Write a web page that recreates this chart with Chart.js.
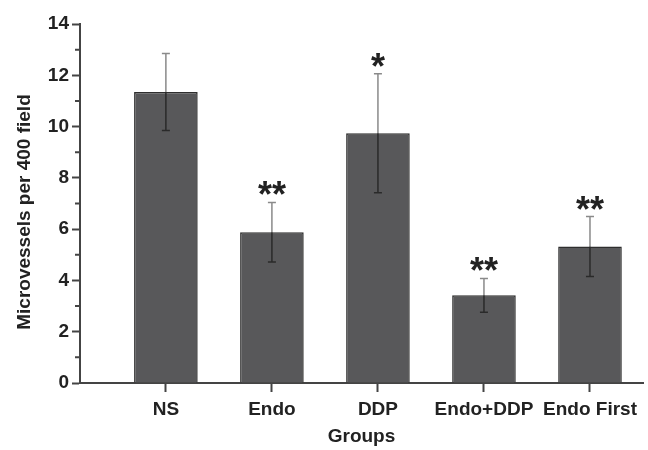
<!DOCTYPE html>
<html>
<head>
<meta charset="utf-8">
<script src="https://cdn.jsdelivr.net/npm/chart.js@4/dist/chart.umd.min.js"></script>
<style>
  html, body { margin: 0; background: #fff; }
  #wrap { width: 648px; height: 450px; }
</style>
</head>
<body>
<div id="wrap"><canvas id="chart"></canvas></div>
<script>
// data
const groups = ['NS', 'Endo', 'DDP', 'Endo+DDP', 'Endo First'];
const means = [11.35, 5.88, 9.74, 3.42, 5.32];
const errors = [1.5, 1.16, 2.32, 0.66, 1.17];
const marks = ['', '**', '*', '**', '**'];
const yMinorTicks = [1, 3, 5, 7, 9, 11, 13];
const yTitle = 'Microvessels per 400 field';

const FONT = '"Liberation Sans", Arial, sans-serif';
const AXIS = '#444';

// error bars, significance stars, minor y ticks and the y title
const extras = {
  id: 'extras',
  afterDatasetsDraw(chart) {
    const { ctx, scales: { x, y } } = chart;
    ctx.save();
    means.forEach((m, i) => {
      const px = x.getPixelForValue(i + 1);
      const top = y.getPixelForValue(m + errors[i]);
      const mid = y.getPixelForValue(m);
      const bot = y.getPixelForValue(m - errors[i]);
      ctx.lineWidth = 1.5;
      ctx.strokeStyle = '#8a8a8a';
      ctx.beginPath();
      ctx.moveTo(px, top); ctx.lineTo(px, mid);
      ctx.moveTo(px - 4, top); ctx.lineTo(px + 4, top);
      ctx.stroke();
      ctx.strokeStyle = '#2a2a2a';
      ctx.beginPath();
      ctx.moveTo(px, mid); ctx.lineTo(px, bot);
      ctx.moveTo(px - 4, bot); ctx.lineTo(px + 4, bot);
      ctx.stroke();

      if (marks[i]) {
        ctx.font = 'bold 36px ' + FONT;
        ctx.fillStyle = '#222';
        ctx.textAlign = 'center';
        ctx.textBaseline = 'alphabetic';
        ctx.fillText(marks[i], px, top + 5);
      }
    });

    ctx.strokeStyle = AXIS;
    ctx.lineWidth = 2;
    ctx.beginPath();
    yMinorTicks.forEach(v => {
      const py = y.getPixelForValue(v);
      ctx.moveTo(x.left - 5, py);
      ctx.lineTo(x.left, py);
    });
    ctx.stroke();

    ctx.translate(25, 212);
    ctx.rotate(-Math.PI / 2);
    ctx.font = 'bold 19px ' + FONT;
    ctx.fillStyle = '#222';
    ctx.textAlign = 'center';
    ctx.textBaseline = 'middle';
    ctx.fillText(yTitle, 0, 0);
    ctx.restore();
  }
};

new Chart(document.getElementById('chart'), {
  type: 'bar',
  data: {
    datasets: [{
      data: means.map((m, i) => ({ x: i + 1, y: m })),
      backgroundColor: '#58585a',
      borderColor: '#2e2e2e',
      borderWidth: 1.5,
      barPercentage: 0.6,
      categoryPercentage: 1
    }]
  },
  options: {
    responsive: true,
    maintainAspectRatio: false,
    animation: false,
    layout: { padding: { top: 24, right: 5, left: 0, bottom: 0 } },
    plugins: { legend: { display: false }, tooltip: { enabled: false } },
    scales: {
      x: {
        type: 'linear',
        min: 0.19,
        max: 5.5,
        offset: false,
        afterBuildTicks: scale => { scale.ticks = groups.map((g, i) => ({ value: i + 1 })); },
        afterFit: scale => { scale.height = 67; },
        grid: { offset: false, drawOnChartArea: false, tickLength: 9, tickColor: AXIS, tickWidth: 2 },
        border: { color: AXIS, width: 2 },
        ticks: {
          autoSkip: false,
          maxRotation: 0,
          padding: 6,
          color: '#222',
          font: { family: FONT, size: 19, weight: 'bold' },
          callback: v => groups[v - 1]
        },
        title: {
          display: true,
          text: 'Groups',
          color: '#222',
          font: { family: FONT, size: 19, weight: 'bold' },
          padding: { top: 0, bottom: 2 }
        }
      },
      y: {
        min: 0,
        max: 14,
        afterFit: scale => { scale.width = 80; },
        grid: { drawOnChartArea: false, tickLength: 8, tickColor: AXIS, tickWidth: 2 },
        border: { color: AXIS, width: 2 },
        ticks: {
          stepSize: 2,
          padding: 3,
          color: '#222',
          font: { family: FONT, size: 19, weight: 'bold' }
        }
      }
    }
  },
  plugins: [extras]
});
</script>
</body>
</html>
